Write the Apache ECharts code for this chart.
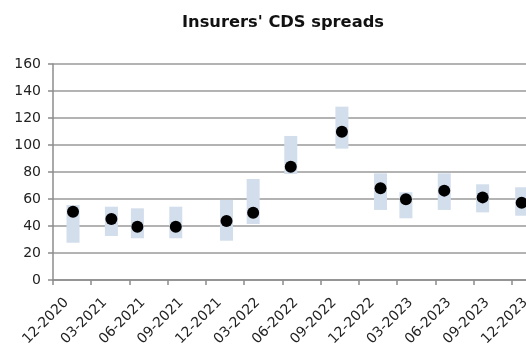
<!DOCTYPE html>
<html>
<head>
<meta charset="utf-8">
<script src="https://cdn.jsdelivr.net/npm/echarts@6/dist/echarts.min.js"></script>
<style>html,body{margin:0;padding:0;background:#fff}#chart{width:526px;height:351px}</style>
</head>
<body>
<div id="chart"></div>
<script>
// x positions in months after the 12-2020 tick
const months = [1.57, 4.58, 6.62, 9.63, 13.61, 15.70, 18.65, 22.66, 25.69, 27.68, 30.69, 33.70, 36.76];
const spreadMid = [50.6, 45.2, 39.5, 39.5, 43.7, 49.9, 83.9, 109.9, 67.9, 59.8, 66.2, 61.2, 57.3];
const spreadLow = [27.6, 32.6, 30.9, 30.9, 29.1, 41.5, 78.5, 97.3, 51.9, 45.7, 51.9, 50.1, 47.6];
const spreadHigh = [55.5, 54.3, 53.1, 54.3, 59.3, 74.8, 106.7, 128.4, 79.0, 65.0, 79.0, 70.9, 68.7];
const tickLabels = ['12-2020','03-2021','06-2021','09-2021','12-2021','03-2022','06-2022','09-2022','12-2022','03-2023','06-2023','09-2023','12-2023'];
const tickValues = tickLabels.map((_, i) => i * 3);

const rangeData = months.map((m, i) => [m, spreadLow[i], spreadHigh[i]]);
const midData = months.map((m, i) => [m, spreadMid[i]]);

const font = 'DejaVu Sans';
const chart = echarts.init(document.getElementById('chart'));
chart.setOption({
  animation: false,
  title: {
    text: "Insurers' CDS spreads",
    left: 278, top: 10, textAlign: 'center',
    textStyle: { fontFamily: font, fontSize: 16.3, fontWeight: 'bold', color: '#111' }
  },
  grid: { left: 53, right: 0, top: 64, bottom: 71, containLabel: false, outerBoundsMode: 'none' },
  xAxis: {
    type: 'value', min: 0, max: 37.1, interval: 3,
    splitLine: { show: false },
    axisLine: { show: true, lineStyle: { color: '#8c8c8c', width: 1.5 } },
    axisTick: { show: true, length: 5, customValues: tickValues, lineStyle: { color: '#8c8c8c', width: 1.5 } },
    axisLabel: {
      customValues: tickValues, rotate: 45, margin: 7,
      align: 'right', verticalAlign: 'top', padding: [12, 0, 0, 0],
      fontFamily: font, fontSize: 14, color: '#222',
      formatter: v => tickLabels[Math.round(v / 3)]
    }
  },
  yAxis: {
    type: 'value', min: 0, max: 160, interval: 20,
    axisLine: { show: true, lineStyle: { color: '#8c8c8c', width: 1.5 } },
    axisTick: { show: true, length: 5, lineStyle: { color: '#8c8c8c', width: 1.5 } },
    splitLine: { show: true, lineStyle: { color: '#9a9a9a', width: 1.5 } },
    axisLabel: { fontFamily: font, fontSize: 14, color: '#222', margin: 12 }
  },
  series: [
    {
      type: 'custom',
      data: rangeData,
      clip: false,
      z: 2,
      renderItem: function (params, api) {
        const x = api.value(0);
        const top = api.coord([x, api.value(2)]);
        const bot = api.coord([x, api.value(1)]);
        return {
          type: 'rect',
          shape: { x: top[0] - 6.5, y: top[1], width: 13, height: bot[1] - top[1] },
          style: { fill: '#d3deec' }
        };
      }
    },
    {
      type: 'scatter',
      data: midData,
      symbol: 'circle',
      symbolSize: 12,
      z: 3,
      itemStyle: { color: '#000', opacity: 1 }
    }
  ]
});
</script>
</body>
</html>
